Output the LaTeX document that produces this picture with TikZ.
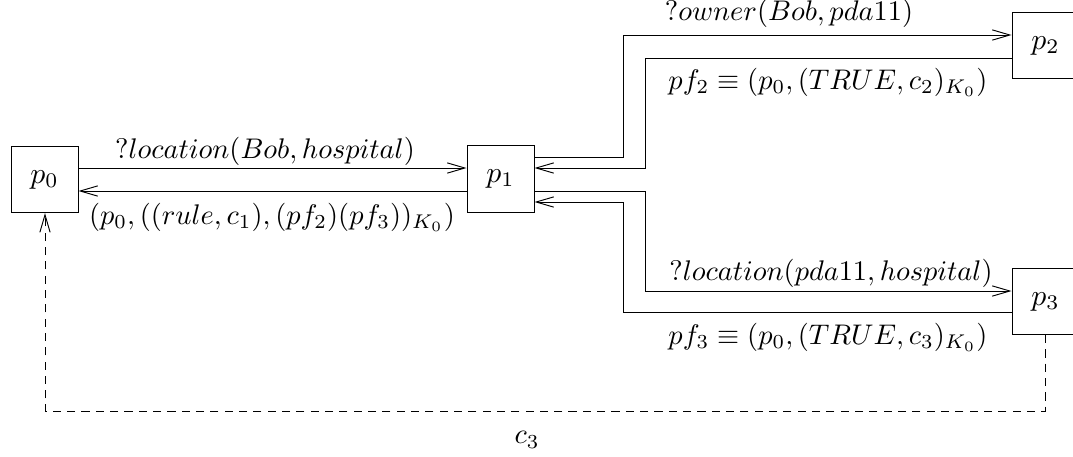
\documentclass[tikz,border=0pt]{standalone}
\usetikzlibrary{arrows.meta}
\begin{document}
\begin{tikzpicture}[x=0.37pt,y=-0.37pt,
  proc/.style={draw,line width=0.35pt,minimum width=24.8pt,minimum height=24.5pt,inner sep=0pt},
  msg/.style={line width=0.35pt,-{Straight Barb[length=6.5pt,width=3.8pt]}},
  lbl/.style={inner sep=0pt,scale=1.05}]
\clip (0,0) rectangle (1073,456);
\node[proc] (p0) at (44.5,179.5) {\scalebox{1.1}{$p_0$}};
\node[proc] (p1) at (500.5,179) {\scalebox{1.1}{$p_1$}};
\node[proc] (p2) at (1045.5,45.5) {\scalebox{1.1}{$p_2$}};
\node[proc] (p3) at (1045.5,301.5) {\scalebox{1.1}{$p_3$}};
% p0 <-> p1
\draw[msg] (p0.east |- 0,168) -- (p1.west |- 0,168);
\draw[msg] (p1.west |- 0,191) -- (p0.east |- 0,191);
% p1 <-> p2
\draw[msg] (p1.east |- 0,157) -| (623,35) -- (p2.west |- 0,35);
\draw[msg] (p2.west |- 0,58) -| (645,168) -- (p1.east |- 0,168);
% p1 <-> p3
\draw[msg] (p1.east |- 0,191) -| (645,291) -- (p3.west |- 0,291);
\draw[msg] (p3.west |- 0,312) -| (623,202) -- (p1.east |- 0,202);
% dashed p3 -> p0
\draw[msg,dash pattern=on 3pt off 2.3pt] (p3.south -| 1045,0) -- (1045,411) -| (p0.south -| 45,0);
% labels
\node[lbl] (l1) at (265,151) {$?location(Bob,hospital)$};
\node[lbl] (l2) at (272,217) {$(p_0,((rule,c_1),(pf_2)(pf_3))_{K_0})$};
\node[lbl] (l3) at (789,13) {$?owner(Bob,pda11)$};
\node[lbl] (l4) at (828,82) {$pf_2\equiv(p_0,(TRUE,c_2)_{K_0})$};
\node[lbl] (l5) at (831,273) {$?location(pda11,hospital)$};
\node[lbl] (l6) at (828,337) {$pf_3\equiv(p_0,(TRUE,c_3)_{K_0})$};
\node[lbl] (l7) at (527,440) {$c_3$};
\end{tikzpicture}
\end{document}
